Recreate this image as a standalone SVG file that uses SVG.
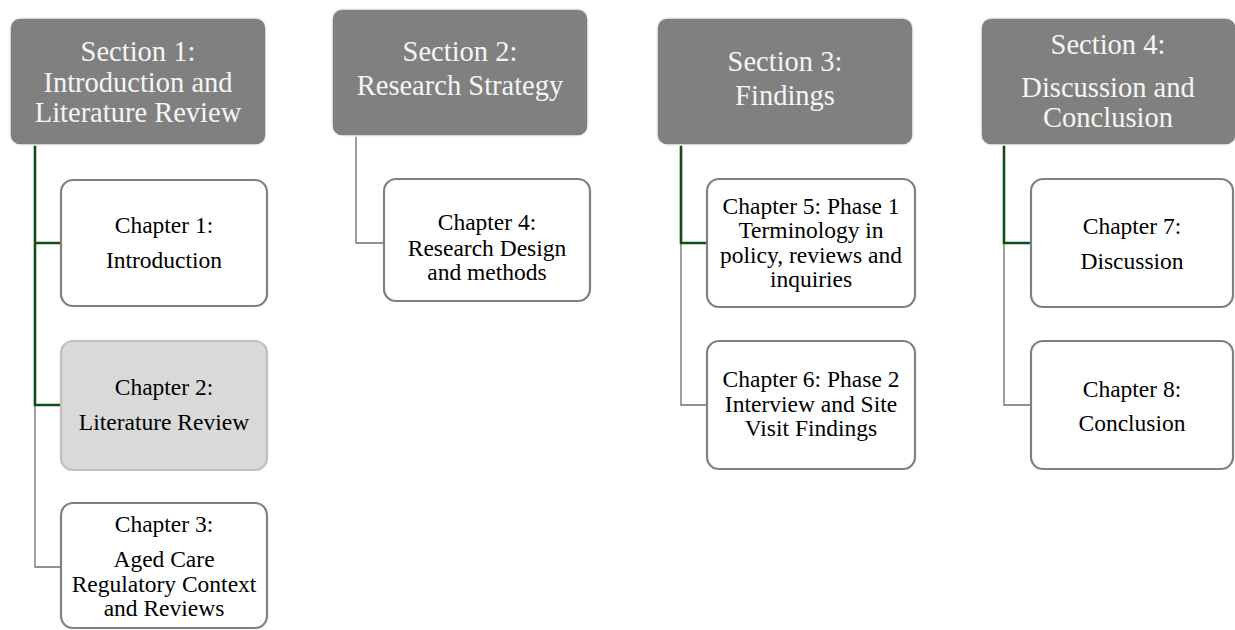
<svg xmlns="http://www.w3.org/2000/svg" width="1235" height="630" viewBox="0 0 1235 630">
  <style>
    .sec rect { fill: #808080; stroke: #f2f2f2; stroke-width: 1.5; }
    .sec text { fill: #f5f5f5; font-family: "Liberation Serif", "Times New Roman", serif; font-size: 28.5px; text-anchor: middle; }
    .ch rect { fill: #ffffff; stroke: #808080; stroke-width: 2.2; }
    .ch.hl rect { fill: #d9d9d9; stroke: #bfbfbf; }
    .ch text { fill: #000000; font-family: "Liberation Serif", "Times New Roman", serif; font-size: 23.5px; text-anchor: middle; }
    .link-on { fill: none; stroke: #0f4f12; stroke-width: 2.6; }
    .link-off { fill: none; stroke: #6e6e6e; stroke-width: 1.3; }
  </style>

  <!-- connectors: highlighted path in green, the rest in grey -->
  <g id="connectors">
    <path class="link-off" d="M35 405 V567 H61"/>
    <path class="link-on" d="M35 145 V405 H61 M35 243 H61"/>
    <path class="link-off" d="M356 136 V243 H384"/>
    <path class="link-off" d="M681 243 V405 H707"/>
    <path class="link-on" d="M681 145 V243 H707"/>
    <path class="link-off" d="M1004 243 V405 H1031"/>
    <path class="link-on" d="M1004 145 V243 H1031"/>
  </g>

  <!-- section headers -->
  <g id="section1" class="sec">
    <rect x="10" y="18" width="256" height="127" rx="10"/>
    <text x="138" y="61">Section 1:</text>
    <text x="138" y="92">Introduction and</text>
    <text x="138" y="122">Literature Review</text>
  </g>
  <g id="section2" class="sec">
    <rect x="332" y="9" width="256" height="127" rx="10"/>
    <text x="460" y="61">Section 2:</text>
    <text x="460" y="95">Research Strategy</text>
  </g>
  <g id="section3" class="sec">
    <rect x="657" y="18" width="256" height="127" rx="10"/>
    <text x="785" y="71">Section 3:</text>
    <text x="785" y="105">Findings</text>
  </g>
  <g id="section4" class="sec">
    <rect x="981" y="18" width="255" height="127" rx="10"/>
    <text x="1108" y="54">Section 4:</text>
    <text x="1108" y="97">Discussion and</text>
    <text x="1108" y="127">Conclusion</text>
  </g>

  <!-- chapters -->
  <g id="chapter1" class="ch">
    <rect x="61" y="180" width="206" height="126" rx="12"/>
    <text x="164" y="233">Chapter 1:</text>
    <text x="164" y="268">Introduction</text>
  </g>
  <g id="chapter2" class="ch hl">
    <rect x="61" y="341" width="206" height="129" rx="12"/>
    <text x="164" y="395">Chapter 2:</text>
    <text x="164" y="430">Literature Review</text>
  </g>
  <g id="chapter3" class="ch">
    <rect x="61" y="503" width="206" height="125" rx="12"/>
    <text x="164" y="532">Chapter 3:</text>
    <text x="164" y="567">Aged Care</text>
    <text x="164" y="592">Regulatory Context</text>
    <text x="164" y="616">and Reviews</text>
  </g>
  <g id="chapter4" class="ch">
    <rect x="384" y="179" width="206" height="122" rx="12"/>
    <text x="487" y="230">Chapter 4:</text>
    <text x="487" y="256">Research Design</text>
    <text x="487" y="280">and methods</text>
  </g>
  <g id="chapter5" class="ch">
    <rect x="707" y="179" width="208" height="128" rx="12"/>
    <text x="811" y="214">Chapter 5: Phase 1</text>
    <text x="811" y="238">Terminology in</text>
    <text x="811" y="263">policy, reviews and</text>
    <text x="811" y="287">inquiries</text>
  </g>
  <g id="chapter6" class="ch">
    <rect x="707" y="341" width="208" height="128" rx="12"/>
    <text x="811" y="387">Chapter 6: Phase 2</text>
    <text x="811" y="412">Interview and Site</text>
    <text x="811" y="436">Visit Findings</text>
  </g>
  <g id="chapter7" class="ch">
    <rect x="1031" y="179" width="202" height="128" rx="12"/>
    <text x="1132" y="234">Chapter 7:</text>
    <text x="1132" y="269">Discussion</text>
  </g>
  <g id="chapter8" class="ch">
    <rect x="1031" y="341" width="202" height="128" rx="12"/>
    <text x="1132" y="397">Chapter 8:</text>
    <text x="1132" y="431">Conclusion</text>
  </g>
</svg>
